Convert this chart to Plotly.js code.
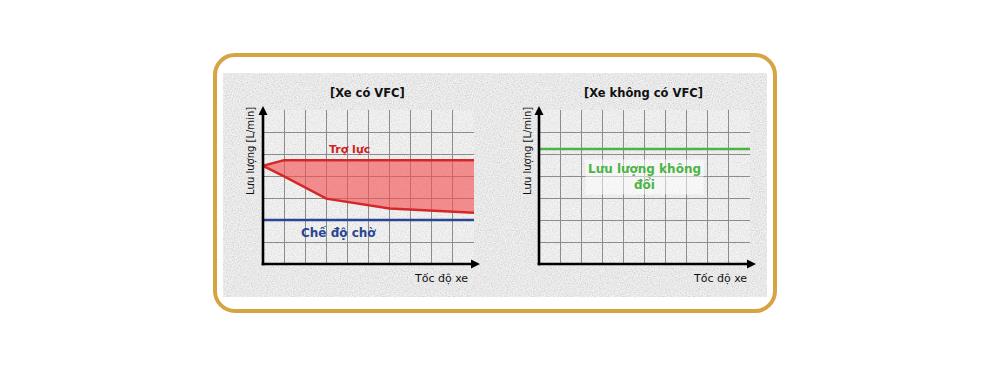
<!DOCTYPE html>
<html>
<head>
<meta charset="utf-8">
<script src="https://cdn.plot.ly/plotly-3.0.1.min.js"></script>
<style>
  html, body { margin:0; padding:0; background:#ffffff; width:986px; height:373px; overflow:hidden; }
  #frame { position:absolute; left:213px; top:53px; width:556px; height:252px; border:4px solid #d6a443; border-radius:22px; background:#fff; }
  #tex { position:absolute; left:223px; top:73px; width:544px; height:224px;
    background-color:#eaeaea;
    background-image:url("data:image/svg+xml;utf8,<svg xmlns='http://www.w3.org/2000/svg' width='240' height='240'><filter id='n'><feTurbulence type='fractalNoise' baseFrequency='0.85' numOctaves='2' stitchTiles='stitch'/><feColorMatrix values='1 0 0 0 0.3  1 0 0 0 0.3  1 0 0 0 0.3  0 0 0 0 0.45'/></filter><rect width='100%25' height='100%25' filter='url(%23n)'/></svg>");
  }
  #chart { position:absolute; left:0; top:0; width:986px; height:373px; }
</style>
</head>
<body>
<div id="frame"></div>
<div id="tex"></div>
<div id="chart"></div>
<script>
// ---- data ----
const titles = ["[Xe có VFC]", "[Xe không có VFC]"];
const yTitle = "Lưu lượng [L/min]";
const xTitle = "Tốc độ xe";
const assistLabel = "Trợ lực";
const standbyLabel = "Chế độ chờ";
const constLabel = "Lưu lượng không<br>đổi";

const assistUpperSpeed = [0, 1, 10];
const assistUpperFlow  = [4.46, 4.72, 4.72];
const assistLowerSpeed = [0, 1, 3, 6, 10];
const assistLowerFlow  = [4.46, 3.98, 2.97, 2.52, 2.33];
const standbySpeed = [0, 10];
const standbyFlow  = [2.0, 2.0];
const constSpeed = [0, 10];
const constFlow  = [5.23, 5.23];

// ---- layout helpers ----
const W = 986, H = 373;
const fx = p => p / W;
const fy = p => 1 - p / H;

const traces = [
  {x: assistLowerSpeed, y: assistLowerFlow, xaxis:'x', yaxis:'y', mode:'lines',
   line:{color:'#d42828', width:2.5}, hoverinfo:'skip'},
  {x: assistUpperSpeed, y: assistUpperFlow, xaxis:'x', yaxis:'y', mode:'lines',
   fill:'tonexty', fillcolor:'rgba(246,80,80,0.62)',
   line:{color:'#d42828', width:2.5}, hoverinfo:'skip'},
  {x: standbySpeed, y: standbyFlow, xaxis:'x', yaxis:'y', mode:'lines',
   line:{color:'#2a4592', width:2.5}, hoverinfo:'skip'},
  {x: constSpeed, y: constFlow, xaxis:'x2', yaxis:'y2', mode:'lines',
   line:{color:'#4cb446', width:2.5}, hoverinfo:'skip'}
];

const xTicks = [1,2,3,4,5,6,7,8,9];
const yTicks = [1,2,3,4,5,6];
function xa(domain, anchor){ return {domain, anchor, range:[0,10], tickvals:xTicks, showticklabels:false,
  ticks:'', showgrid:true, gridcolor:'#8c8c8c', gridwidth:1, zeroline:false, showline:false, fixedrange:true}; }
function ya(domain, anchor){ return {domain, anchor, range:[0,7], tickvals:yTicks, showticklabels:false,
  ticks:'', showgrid:true, gridcolor:'#8c8c8c', gridwidth:1, zeroline:false, showline:false, fixedrange:true}; }

const font = "DejaVu Sans, Verdana, sans-serif";
const ann = [];
function txt(x, y, text, size, color, extra){
  ann.push(Object.assign({xref:'paper', yref:'paper', x:fx(x), y:fy(y), xanchor:'center', yanchor:'middle',
    text, showarrow:false, font:{family:font, size, color}}, extra || {}));
}
txt(367.5, 93, '<b>'+titles[0]+'</b>', 11.5, '#111');
txt(643.5, 93, '<b>'+titles[1]+'</b>', 11.5, '#111');
txt(251, 151, yTitle, 10, '#111', {textangle:-90});
txt(528, 151, yTitle, 10, '#111', {textangle:-90});
txt(441, 278, xTitle, 11, '#111');
txt(720, 278, xTitle, 11, '#111');
// series labels in data coords
ann.push({xref:'x', yref:'y', x:4.08, y:5.22, xanchor:'center', yanchor:'middle', text:'<b>'+assistLabel+'</b>', showarrow:false, font:{family:font, size:11, color:'#cc2224'}});
ann.push({xref:'x', yref:'y', x:3.6, y:1.43, xanchor:'center', yanchor:'middle', text:'<b>'+standbyLabel+'</b>', showarrow:false, font:{family:font, size:12, color:'#2a4592'}});
ann.push({xref:'x2', yref:'y2', x:5.0, y:3.95, xanchor:'center', yanchor:'middle', text:'<b>'+constLabel+'</b>', showarrow:false,
  bgcolor:'rgba(255,255,255,0.5)', borderpad:2, font:{family:font, size:12, color:'#4cb446'}});

// axis lines with arrow heads (decoration, in paper coords from pixel positions)
const P = (x, y) => fx(x) + ',' + fy(y);
const shapes = [];
[[263, 264, 474], [539, 264, 750]].forEach(([ox, oy, xe]) => {
  shapes.push({type:'line', xref:'paper', yref:'paper', x0:fx(ox-1.3), y0:fy(oy), x1:fx(xe), y1:fy(oy), line:{color:'#000', width:2.6}});
  shapes.push({type:'line', xref:'paper', yref:'paper', x0:fx(ox), y0:fy(oy+1.3), x1:fx(ox), y1:fy(113), line:{color:'#000', width:2.6}});
  shapes.push({type:'path', xref:'paper', yref:'paper',
    path:'M ' + P(xe-3, oy-4.5) + ' L ' + P(xe+6, oy) + ' L ' + P(xe-3, oy+4.5) + ' Z', fillcolor:'#000', line:{width:0}});
  shapes.push({type:'path', xref:'paper', yref:'paper',
    path:'M ' + P(ox-4.5, 115) + ' L ' + P(ox, 106) + ' L ' + P(ox+4.5, 115) + ' Z', fillcolor:'#000', line:{width:0}});
});

const layout = {
  width:W, height:H, margin:{l:0,r:0,t:0,b:0},
  paper_bgcolor:'rgba(0,0,0,0)', plot_bgcolor:'rgba(255,255,255,0.22)',
  showlegend:false,
  xaxis: xa([fx(263), fx(474)], 'y'),
  yaxis: ya([fy(264), fy(110)], 'x'),
  xaxis2: xa([fx(539), fx(750)], 'y2'),
  yaxis2: ya([fy(264), fy(110)], 'x2'),
  annotations: ann,
  shapes: shapes
};

Plotly.newPlot('chart', traces, layout, {staticPlot:true, displayModeBar:false});
</script>
</body>
</html>
